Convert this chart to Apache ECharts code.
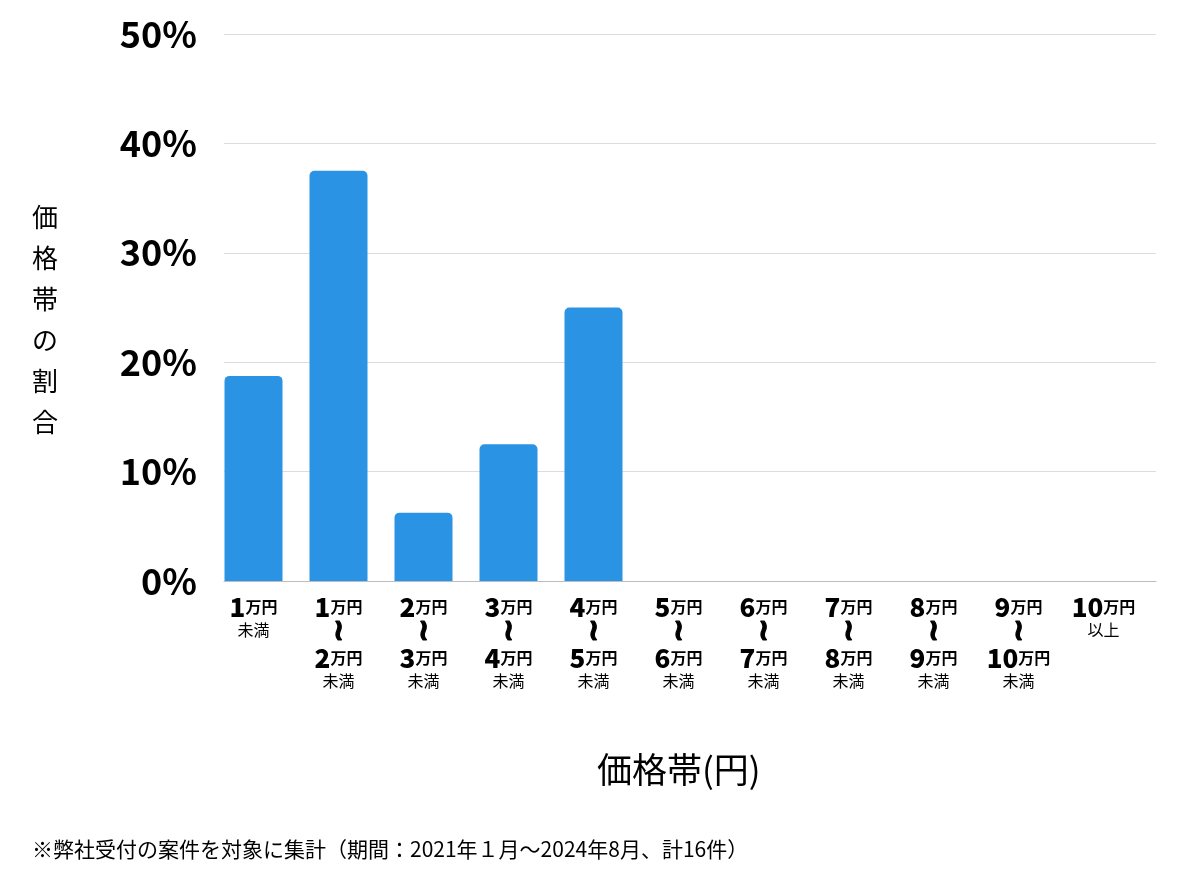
<!DOCTYPE html>
<html>
<head>
<meta charset="utf-8">
<script src="https://cdn.jsdelivr.net/npm/echarts@6/dist/echarts.min.js"></script>
<style>
html,body{margin:0;padding:0;background:#fff;}
#chart{width:1200px;height:874px;}
</style>
</head>
<body>
<div id="chart"></div>
<script>
// 価格帯の割合（棒グラフ）

const FONT = '"Noto Sans CJK JP","Noto Sans",sans-serif';

// 価格帯の区切り（下限・上限）
const lowerPrices = ["1","1","2","3","4","5","6","7","8","9","10"];
const upperPrices = ["","2","3","4","5","6","7","8","9","10",""];
const tailWords  = ["未満","未満","未満","未満","未満","未満","未満","未満","未満","未満","以上"];

// 割合(%)
const shares = [18.75, 37.5, 6.25, 12.5, 25, 0, 0, 0, 0, 0, 0];

const yTicks = [0, 10, 20, 30, 40, 50];

const categories = lowerPrices.map((v, i) => i);

const yAxisTitle = "価格帯の割合";
const xAxisTitle = "価格帯(円)";
const footNote = "※弊社受付の案件を対象に集計（期間：2021年１月〜2024年8月、計16件）";


const chart = echarts.init(document.getElementById("chart"));


function labelOf(i){

  if(!upperPrices[i]){
    return "{n|" + lowerPrices[i] + "}{u|万円}\n{s|" + tailWords[i] + "}";
  }

  return "{n|" + lowerPrices[i] + "}{u|万円}\n" +
         "{w|≀}\n" +
         "{n|" + upperPrices[i] + "}{u|万円}\n" +
         "{s|" + tailWords[i] + "}";
}


chart.setOption({

  animation:false,

  grid:[
    {left:224, right:44, top:34, bottom:293},
    {left:211, right:54, top:34, bottom:293}
  ],

  xAxis:[
    {
      gridIndex:0,
      type:"category",
      data:categories,
      axisLine:{lineStyle:{color:"#bdbdbd", width:1}},
      axisTick:{show:false},
      axisLabel:{show:false}
    },
    {
      gridIndex:1,
      type:"category",
      data:categories,
      axisLine:{show:false},
      axisTick:{show:false},
      axisLabel:{
        margin:13,
        interval:0,
        color:"#000",
        fontFamily:FONT,
        formatter:(v, i)=>labelOf(i),
        rich:{
          n:{fontSize:26, fontWeight:900, fontFamily:FONT, color:"#000", lineHeight:26},
          u:{fontSize:16, fontWeight:"bold", fontFamily:FONT, color:"#000", lineHeight:26},
          w:{fontSize:30, fontWeight:"bold", fontFamily:"DejaVu Sans", color:"#000",
             textBorderColor:"#000", textBorderWidth:1.2, lineHeight:25},
          s:{fontSize:16, fontFamily:FONT, color:"#000", lineHeight:20}
        }
      }
    }
  ],

  yAxis:[
    {
      gridIndex:0,
      type:"value",
      min:yTicks[0],
      max:yTicks[yTicks.length-1],
      interval:10,
      axisLine:{show:false},
      axisTick:{show:false},
      axisLabel:{
        margin:27,
        formatter:"{value}%",
        fontSize:36,
        fontWeight:"bold",
        fontFamily:FONT,
        color:"#000"
      },
      splitLine:{lineStyle:{color:"#dcdcdc", width:1}}
    },
    {
      gridIndex:1,
      type:"value",
      min:yTicks[0],
      max:yTicks[yTicks.length-1],
      show:false,
      splitLine:{show:false}
    }
  ],

  series:[{
    type:"bar",
    xAxisIndex:1,
    yAxisIndex:1,
    data:shares,
    barWidth:58,
    itemStyle:{
      color:"#2a93e3",
      borderRadius:[5,5,0,0]
    }
  }],

  graphic:[
    {
      type:"text",
      left:32,
      top:197,
      style:{
        text:yAxisTitle.split("").join("\n"),
        font:"26px " + FONT,
        lineHeight:41,
        fill:"#000",
        align:"center"
      }
    },
    {
      type:"text",
      left:597,
      top:752,
      style:{
        text:xAxisTitle,
        font:"35px " + FONT,
        fill:"#000"
      }
    },
    {
      type:"text",
      left:32,
      top:839,
      style:{
        text:footNote,
        font:"21px " + FONT,
        fill:"#000"
      }
    }
  ]

});


window.addEventListener(
  "resize",
  ()=>chart.resize()
);

</script>
</body>
</html>
